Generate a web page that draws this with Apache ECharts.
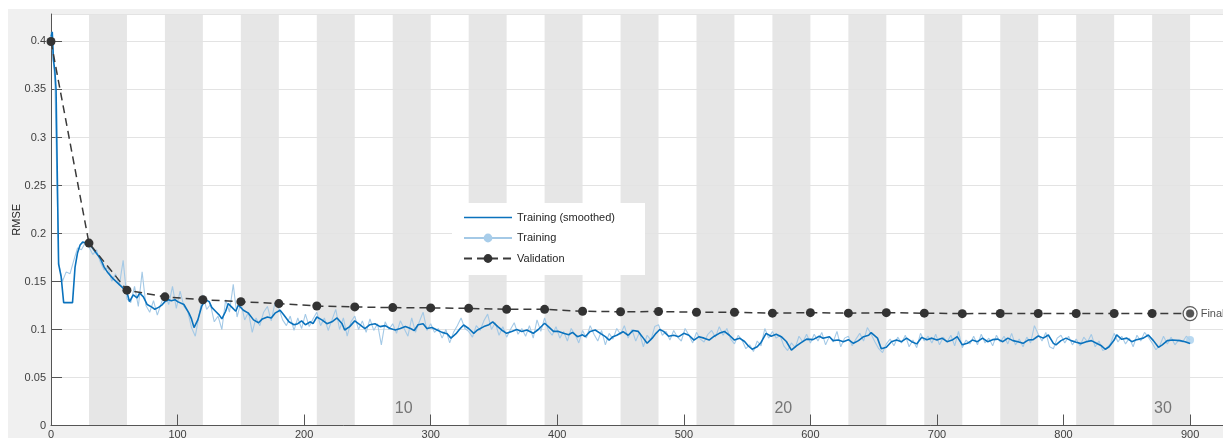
<!DOCTYPE html>
<html>
<head>
<meta charset="utf-8">
<script src="https://cdn.jsdelivr.net/npm/echarts@6/dist/echarts.min.js"></script>
<style>
  html, body { margin: 0; padding: 0; background: #fff; }
  #chart { position: absolute; left: 8px; top: 9px; width: 1215px; height: 429px; background: #f0f0f0; }
</style>
</head>
<body>
<div id="chart"></div>
<script>
// training progress: 30 epochs x 30 iterations
const itersPerEpoch = 30;
const numEpochs = 30;
const epochLabels = [10, 20, 30];

// validation RMSE, every 30 iterations (0..900)
const validationRMSE = [
  0.400, 0.190, 0.141, 0.134, 0.131, 0.129, 0.127, 0.1245, 0.1235, 0.1228, 0.1225,
  0.122, 0.121, 0.121, 0.119, 0.1185, 0.1187, 0.118, 0.118, 0.117, 0.1175,
  0.117, 0.1175, 0.117, 0.1165, 0.1167, 0.1167, 0.1167, 0.1167, 0.1167, 0.1166
];

// raw training RMSE, sampled every 3 iterations (0..900)
const trainingRMSE = [
  0.41, 0.36, 0.17, 0.15, 0.16, 0.158, 0.172, 0.185, 0.183, 0.19,
  0.186, 0.178, 0.183, 0.170, 0.162, 0.165, 0.150, 0.158, 0.146, 0.172,
  0.132, 0.128, 0.145, 0.124, 0.160, 0.125, 0.118, 0.130, 0.115, 0.127,
  0.138, 0.126, 0.145, 0.122, 0.140, 0.124, 0.119, 0.102, 0.093, 0.115,
  0.136, 0.121, 0.126, 0.108, 0.114, 0.100, 0.131, 0.118, 0.147, 0.113,
  0.128, 0.110, 0.118, 0.097, 0.112, 0.104, 0.118, 0.124, 0.109, 0.128,
  0.122, 0.110, 0.104, 0.114, 0.099, 0.112, 0.101, 0.116, 0.103, 0.111,
  0.118, 0.104, 0.112, 0.099, 0.110, 0.121, 0.100, 0.112, 0.093, 0.108,
  0.114, 0.100, 0.109, 0.097, 0.111, 0.099, 0.106, 0.084, 0.108, 0.100,
  0.106, 0.096, 0.109, 0.101, 0.093, 0.112, 0.097, 0.108, 0.118, 0.099,
  0.106, 0.097, 0.101, 0.091, 0.100, 0.086, 0.097, 0.104, 0.112, 0.101,
  0.098, 0.092, 0.104, 0.099, 0.109, 0.116, 0.100, 0.107, 0.094, 0.103,
  0.092, 0.100, 0.107, 0.095, 0.101, 0.093, 0.104, 0.091, 0.110, 0.098,
  0.112, 0.099, 0.094, 0.103, 0.091, 0.098, 0.088, 0.101, 0.095, 0.086,
  0.099, 0.091, 0.104, 0.095, 0.088, 0.099, 0.084, 0.096, 0.090, 0.101,
  0.095, 0.104, 0.091, 0.100, 0.088, 0.097, 0.082, 0.094, 0.089, 0.103,
  0.105, 0.094, 0.098, 0.089, 0.099, 0.092, 0.088, 0.101, 0.094, 0.086,
  0.097, 0.090, 0.087, 0.095, 0.099, 0.092, 0.103, 0.094, 0.101, 0.090,
  0.085, 0.094, 0.089, 0.080, 0.084, 0.077, 0.088, 0.083, 0.101, 0.091,
  0.098, 0.091, 0.094, 0.083, 0.078, 0.086, 0.081, 0.093, 0.087, 0.095,
  0.086, 0.095, 0.088, 0.097, 0.084, 0.093, 0.087, 0.098, 0.082, 0.091,
  0.093, 0.083, 0.090, 0.096, 0.088, 0.102, 0.095, 0.087, 0.080, 0.076,
  0.085, 0.090, 0.083, 0.092, 0.086, 0.094, 0.082, 0.089, 0.081, 0.096,
  0.088, 0.093, 0.086, 0.095, 0.084, 0.092, 0.087, 0.094, 0.083, 0.098,
  0.081, 0.089, 0.085, 0.093, 0.084, 0.095, 0.086, 0.091, 0.083, 0.094,
  0.087, 0.093, 0.085, 0.096, 0.084, 0.090, 0.082, 0.092, 0.086, 0.104,
  0.095, 0.088, 0.097, 0.082, 0.080, 0.091, 0.094, 0.086, 0.093, 0.084,
  0.090, 0.083, 0.092, 0.087, 0.095, 0.082, 0.088, 0.078, 0.080, 0.085,
  0.096, 0.087, 0.093, 0.085, 0.091, 0.082, 0.094, 0.088, 0.097, 0.092,
  0.086, 0.079, 0.083, 0.093, 0.085, 0.092, 0.084, 0.089, 0.087, 0.093,
  0.089
];
const trainingStep = 3;

// smoothed training RMSE at irregular iterations
const smoothIter = [
  0, 1, 2, 3, 4, 6, 8, 10, 17, 19, 21, 23, 25, 28, 31, 35, 39, 42, 45, 49,
  53, 57, 60, 62, 65, 68, 70, 73, 76, 80, 82, 85, 88, 90, 93, 95, 98, 100, 105, 109,
  111, 113, 116, 119, 122, 125, 127, 130, 133, 135, 138, 140, 143, 146, 148, 152, 156, 160, 164, 167,
  171, 174, 177, 181, 184, 188, 192, 195, 198, 201, 205, 207, 210, 214, 218, 222, 226, 230, 232, 236,
  240, 244, 248, 252, 256, 260, 264, 268, 272, 276, 280, 284, 287, 290, 294, 297, 301, 305, 309, 313,
  316, 320, 323, 326, 330, 334, 337, 342, 346, 349, 353, 356, 360, 364, 368, 372, 376, 381, 385, 390,
  393, 397, 401, 405, 409, 412, 416, 420, 422, 426, 430, 434, 438, 441, 444, 447, 452, 456, 460, 464,
  468, 471, 475, 478, 481, 484, 488, 492, 496, 500, 504, 508, 512, 516, 520, 524, 528, 532, 536, 540,
  544, 548, 551, 554, 558, 561, 565, 569, 573, 577, 581, 585, 589, 593, 597, 602, 607, 610, 615, 618,
  622, 626, 630, 634, 638, 642, 646, 648, 653, 656, 660, 664, 668, 672, 676, 680, 684, 688, 692, 696,
  700, 704, 708, 712, 716, 720, 724, 728, 732, 736, 740, 744, 748, 752, 756, 760, 764, 768, 772, 776,
  780, 784, 788, 792, 794, 798, 802, 806, 810, 814, 818, 822, 826, 830, 833, 836, 840, 842, 846, 850,
  854, 857, 863, 867, 871, 875, 878, 882, 886, 892, 896, 900
];
const smoothRMSE = [
  0.405, 0.41, 0.38, 0.37, 0.35, 0.168, 0.155, 0.128, 0.128, 0.165, 0.18, 0.188, 0.191, 0.190, 0.188, 0.181, 0.174, 0.165, 0.159, 0.153,
  0.148, 0.143, 0.139, 0.129, 0.136, 0.133, 0.138, 0.134, 0.126, 0.123, 0.121, 0.123, 0.126, 0.129, 0.131, 0.130, 0.131, 0.129, 0.126, 0.117,
  0.111, 0.102, 0.110, 0.124, 0.131, 0.129, 0.123, 0.119, 0.115, 0.111, 0.119, 0.127, 0.123, 0.119, 0.1255, 0.120, 0.117, 0.110, 0.107, 0.111,
  0.113, 0.112, 0.117, 0.120, 0.115, 0.108, 0.105, 0.106, 0.109, 0.105, 0.108, 0.106, 0.113, 0.110, 0.106, 0.108, 0.112, 0.106, 0.0995, 0.103,
  0.109, 0.105, 0.101, 0.105, 0.106, 0.103, 0.104, 0.101, 0.0995, 0.101, 0.103, 0.101, 0.099, 0.105, 0.106, 0.101, 0.102, 0.0995, 0.097, 0.0956,
  0.091, 0.0956, 0.1005, 0.1047, 0.101, 0.096, 0.0995, 0.103, 0.105, 0.108, 0.103, 0.0995, 0.096, 0.098, 0.100, 0.098, 0.0995, 0.096, 0.100, 0.1065,
  0.103, 0.098, 0.098, 0.096, 0.0945, 0.097, 0.0925, 0.0945, 0.0925, 0.098, 0.0995, 0.096, 0.0925, 0.089, 0.0925, 0.094, 0.0977, 0.094, 0.099, 0.098,
  0.091, 0.0856, 0.091, 0.096, 0.100, 0.098, 0.093, 0.094, 0.0925, 0.096, 0.094, 0.089, 0.0925, 0.091, 0.089, 0.093, 0.096, 0.098, 0.094, 0.089,
  0.091, 0.0875, 0.0828, 0.0794, 0.082, 0.0865, 0.096, 0.093, 0.095, 0.0925, 0.0875, 0.0786, 0.083, 0.0865, 0.090, 0.0894, 0.093, 0.0908, 0.0925, 0.0884,
  0.089, 0.0873, 0.0894, 0.0856, 0.0884, 0.0925, 0.094, 0.0967, 0.091, 0.080, 0.0815, 0.0873, 0.089, 0.0873, 0.091, 0.0873, 0.085, 0.0918, 0.0894, 0.091,
  0.089, 0.091, 0.0873, 0.089, 0.0925, 0.084, 0.0856, 0.089, 0.0873, 0.091, 0.0873, 0.0894, 0.090, 0.0873, 0.091, 0.0884, 0.0873, 0.0856, 0.089, 0.0894,
  0.0932, 0.091, 0.0943, 0.0856, 0.084, 0.0884, 0.091, 0.0884, 0.0867, 0.0853, 0.0873, 0.0884, 0.0856, 0.083, 0.0794, 0.082, 0.089, 0.0943, 0.0898, 0.091,
  0.0873, 0.089, 0.091, 0.0943, 0.0884, 0.0814, 0.084, 0.0884, 0.089, 0.0884, 0.0873, 0.0855
];

const chart = echarts.init(document.getElementById('chart'));

const valData = validationRMSE.map((v, i) => [i * itersPerEpoch, v]);
const trainData = trainingRMSE.map((v, i) => [i * trainingStep, v]);
const smoothData = smoothRMSE.map((v, i) => [smoothIter[i], v]);
const finalVal = valData[valData.length - 1];
const lastTrain = trainData[trainData.length - 1];

// grey background for every second epoch
const bands = [];
for (let e = 2; e <= numEpochs; e += 2) {
  bands.push([{ xAxis: (e - 1) * itersPerEpoch }, { xAxis: e * itersPerEpoch }]);
}

const font = 'Liberation Sans, Arial, sans-serif';
const axisGrey = '#555';

chart.setOption({
  animation: false,
  textStyle: { fontFamily: font },
  grid: {
    left: 43, top: 5, right: 0, bottom: 12.5,
    containLabel: false, outerBoundsMode: 'none',
    show: true, backgroundColor: '#fff', borderWidth: 0
  },
  legend: {
    data: [
      { name: 'Training (smoothed)', icon: 'path://M0,0L50,0L50,1.8L0,1.8Z' },
      { name: 'Training' },
      { name: 'Validation' }
    ],
    orient: 'vertical',
    left: 444, top: 194,
    itemWidth: 48, itemHeight: 11, itemGap: 9.5,
    padding: [9, 30, 11, 11],
    backgroundColor: '#fff',
    textStyle: { fontSize: 11, color: '#262626', fontFamily: font }
  },
  xAxis: {
    type: 'value',
    min: 0, max: 926, interval: 100,
    z: 1.5,
    axisLine: { lineStyle: { color: axisGrey, width: 1 } },
    axisTick: { inside: true, length: 11, lineStyle: { color: axisGrey } },
    axisLabel: { showMaxLabel: false, margin: 4, fontSize: 11, color: '#404040' },
    splitLine: { show: false }
  },
  yAxis: {
    type: 'value',
    min: 0, max: 0.4286, interval: 0.05,
    z: 1.5,
    name: 'RMSE', nameLocation: 'middle', nameRotate: 90, nameGap: 29,
    nameMoveOverlap: false,
    nameTextStyle: { fontSize: 11, color: '#262626' },
    axisLine: { show: true, lineStyle: { color: axisGrey, width: 1 } },
    axisTick: { show: true, inside: true, length: 11, lineStyle: { color: axisGrey } },
    axisLabel: { showMaxLabel: false, margin: 5, fontSize: 11, color: '#404040' },
    splitLine: { show: true, lineStyle: { color: '#e3e3e3', width: 1 } }
  },
  series: [
    {
      name: 'epochs', type: 'line', data: [], silent: true,
      markArea: { silent: true, z: 1, itemStyle: { color: '#e6e6e6' }, data: bands }
    },
    {
      name: 'Training', type: 'line', data: trainData, z: 2,
      symbol: 'circle', symbolSize: 8, showSymbol: false,
      itemStyle: { color: '#a8cdea' },
      lineStyle: { color: '#a4c9e6', width: 1.1 }
    },
    {
      name: 'trainingLast', type: 'scatter', data: [lastTrain], z: 3,
      symbolSize: 8, itemStyle: { color: '#a8d0ee' }
    },
    {
      name: 'Training (smoothed)', type: 'line', data: smoothData, z: 4,
      symbol: 'none', itemStyle: { color: '#0a72bd' },
      lineStyle: { color: '#0a72bd', width: 1.6 }
    },
    {
      name: 'Validation', type: 'line', data: valData, z: 5,
      symbol: 'circle', symbolSize: 9,
      itemStyle: { color: '#333' },
      lineStyle: { color: '#3a3a3a', width: 1.5, type: [8, 5] }
    },
    {
      name: 'finalRing', type: 'scatter', data: [finalVal], z: 6,
      symbol: 'circle', symbolSize: 14,
      itemStyle: { color: '#fff', borderColor: '#333', borderWidth: 1.2 },
      label: { show: true, position: 'right', distance: 3, formatter: 'Final', fontSize: 11, color: '#262626' }
    },
    {
      name: 'finalDot', type: 'scatter', data: [finalVal], z: 7,
      symbolSize: 8, itemStyle: { color: '#333' }
    },
    {
      name: 'epochLabels', type: 'scatter', z: 3, silent: true,
      data: epochLabels.map(e => ({ value: [(e - 1) * itersPerEpoch, 0], name: String(e) })),
      symbolSize: 0,
      label: {
        show: true, position: [2, -25], align: 'left',
        formatter: p => p.name, fontSize: 16, color: '#595959'
      }
    }
  ]
});
</script>
</body>
</html>
